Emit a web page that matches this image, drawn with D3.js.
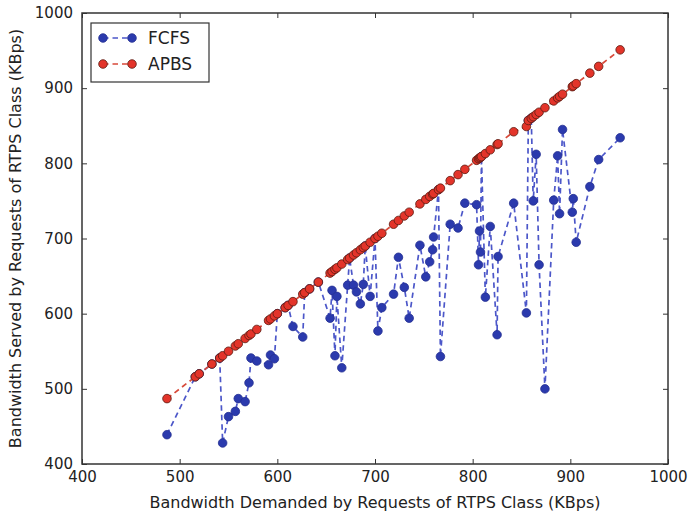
<!DOCTYPE html>
<html>
<head>
<meta charset="utf-8">
<script src="https://cdn.jsdelivr.net/npm/d3@7"></script>
<style>
  body { margin: 0; background: #fff; }
  text { font-family: "DejaVu Sans", sans-serif; fill: #222; }
</style>
</head>
<body>
<div id="chart"></div>
<script>
// Data (KBps)
const demanded = [487, 516, 520, 533, 541, 544, 550, 557, 560, 567, 571, 573, 579, 591, 593, 597, 600, 608, 611, 616,
  626, 628, 633, 642, 654, 656, 659, 661, 666, 672, 674, 678, 681, 685, 688, 690, 695, 700, 703, 707,
  719, 724, 730, 735, 746, 752, 756, 759, 760, 765, 767, 777, 785, 792, 804, 806, 807, 808, 809, 813,
  818, 825, 826, 842, 855, 857, 860, 862, 865, 868, 874, 883, 887, 889, 892, 902, 903, 906, 920, 929, 951];
const fcfs = [439, 516, 520, 533, 541, 428, 463, 470, 487, 483, 508, 541, 537, 532, 545, 540, 600, 608, 611, 583,
  569, 628, 633, 642, 594, 631, 544, 623, 528, 638, 674, 638, 629, 613, 639, 690, 623, 700, 577, 608,
  626, 675, 635, 594, 691, 649, 669, 685, 702, 765, 543, 719, 714, 747, 745, 665, 710, 682, 809, 622,
  716, 572, 676, 747, 601, 857, 860, 750, 812, 665, 500, 751, 810, 733, 845, 735, 753, 695, 769, 805, 834];
const apbs = [487, 516, 520, 533, 541, 544, 550, 557, 560, 567, 571, 573, 579, 591, 593, 597, 600, 608, 611, 616,
  626, 628, 633, 642, 654, 656, 659, 661, 666, 672, 674, 678, 681, 685, 688, 690, 695, 700, 703, 707,
  719, 724, 730, 735, 746, 752, 756, 759, 760, 765, 767, 777, 785, 792, 804, 806, 807, 808, 809, 813,
  818, 825, 826, 842, 849, 857, 860, 862, 865, 868, 874, 883, 887, 889, 892, 902, 903, 906, 920, 929, 951];
const xTicks = [400, 500, 600, 700, 800, 900, 1000];
const yTicks = [400, 500, 600, 700, 800, 900, 1000];
const seriesNames = ["FCFS", "APBS"];

const W = 689, H = 521;
const margin = { top: 13, right: 21, bottom: 57, left: 82 };
const width = W - margin.left - margin.right,
      height = H - margin.top - margin.bottom;

const svg = d3.select("#chart").append("svg")
    .attr("width", W)
    .attr("height", H);

const g = svg.append("g")
    .attr("transform", `translate(${margin.left},${margin.top})`);

const x = d3.scaleLinear().domain([400, 1000]).range([0, width]);
const y = d3.scaleLinear().domain([400, 1000]).range([height, 0]);

// axes, ticks pointing inwards on all four sides
const tickStyle = a => {
  a.select(".domain").remove();
  a.selectAll(".tick line").attr("stroke", "#333").attr("stroke-width", 1);
  a.selectAll(".tick text").style("font-size", "15px").attr("fill", "#222");
};
g.append("g").attr("transform", `translate(0,${height})`)
  .call(d3.axisBottom(x).tickValues(xTicks).tickSizeInner(-5).tickSizeOuter(0).tickPadding(4).tickFormat(d3.format("d")))
  .call(tickStyle)
  .call(a => a.selectAll(".tick text").attr("dy", "0.95em"));
g.append("g")
  .call(d3.axisTop(x).tickValues(xTicks).tickSizeInner(-5).tickSizeOuter(0).tickFormat(""))
  .call(tickStyle);
g.append("g")
  .call(d3.axisLeft(y).tickValues(yTicks).tickSizeInner(-5).tickSizeOuter(0).tickPadding(9).tickFormat(d3.format("d")))
  .call(tickStyle);
g.append("g").attr("transform", `translate(${width},0)`)
  .call(d3.axisRight(y).tickValues(yTicks).tickSizeInner(-5).tickSizeOuter(0).tickFormat(""))
  .call(tickStyle);

// plot frame
g.append("rect")
  .attr("width", width).attr("height", height)
  .attr("fill", "none").attr("stroke", "#333").attr("stroke-width", 1.5);

const blue = "#2b3aad", red = "#e3342a";
const styles = [
  { line: "#4c57c9", fill: blue, edge: "#232f92" },
  { line: "#d84a3a", fill: red, edge: "#5a1c12" }
];

const plot = g.append("g");

function drawSeries(vals, st) {
  const pts = demanded.map((d, i) => [d, vals[i]]);
  plot.append("path")
    .datum(pts)
    .attr("fill", "none")
    .attr("stroke", st.line)
    .attr("stroke-width", 1.7)
    .attr("stroke-dasharray", "5.5,4")
    .attr("d", d3.line().x(d => x(d[0])).y(d => y(d[1])));
  plot.selectAll(null)
    .data(pts)
    .join("circle")
    .attr("cx", d => x(d[0]))
    .attr("cy", d => y(d[1]))
    .attr("r", 4.3)
    .attr("fill", st.fill)
    .attr("stroke", st.edge)
    .attr("stroke-width", 0.8);
}
drawSeries(fcfs, styles[0]);
drawSeries(apbs, styles[1]);

// legend
const leg = g.append("g").attr("transform", "translate(9,10)");
leg.append("rect")
  .attr("width", 118).attr("height", 59)
  .attr("fill", "#fff").attr("stroke", "#333").attr("stroke-width", 1.2);
seriesNames.forEach((name, i) => {
  const st = styles[i];
  const row = leg.append("g").attr("transform", `translate(0,${15 + i * 26})`);
  row.append("line")
    .attr("x1", 12).attr("x2", 41).attr("y1", 0).attr("y2", 0)
    .attr("stroke", st.line).attr("stroke-width", 1.7).attr("stroke-dasharray", "5.5,4");
  [12, 41].forEach(cx => row.append("circle")
    .attr("cx", cx).attr("cy", 0).attr("r", 4.3)
    .attr("fill", st.fill).attr("stroke", st.edge).attr("stroke-width", 0.8));
  row.append("text")
    .attr("x", 57).attr("y", 0).attr("dy", "0.36em")
    .style("font-size", "17px")
    .text(name);
});

// axis titles
svg.append("text")
  .attr("x", margin.left + width / 2).attr("y", 508)
  .attr("text-anchor", "middle")
  .style("font-size", "16px")
  .text("Bandwidth Demanded by Requests of RTPS Class (KBps)");
svg.append("text")
  .attr("transform", `translate(21,${margin.top + height / 2}) rotate(-90)`)
  .attr("text-anchor", "middle")
  .style("font-size", "16px")
  .text("Bandwidth Served by Requests of RTPS Class (KBps)");
</script>
</body>
</html>
